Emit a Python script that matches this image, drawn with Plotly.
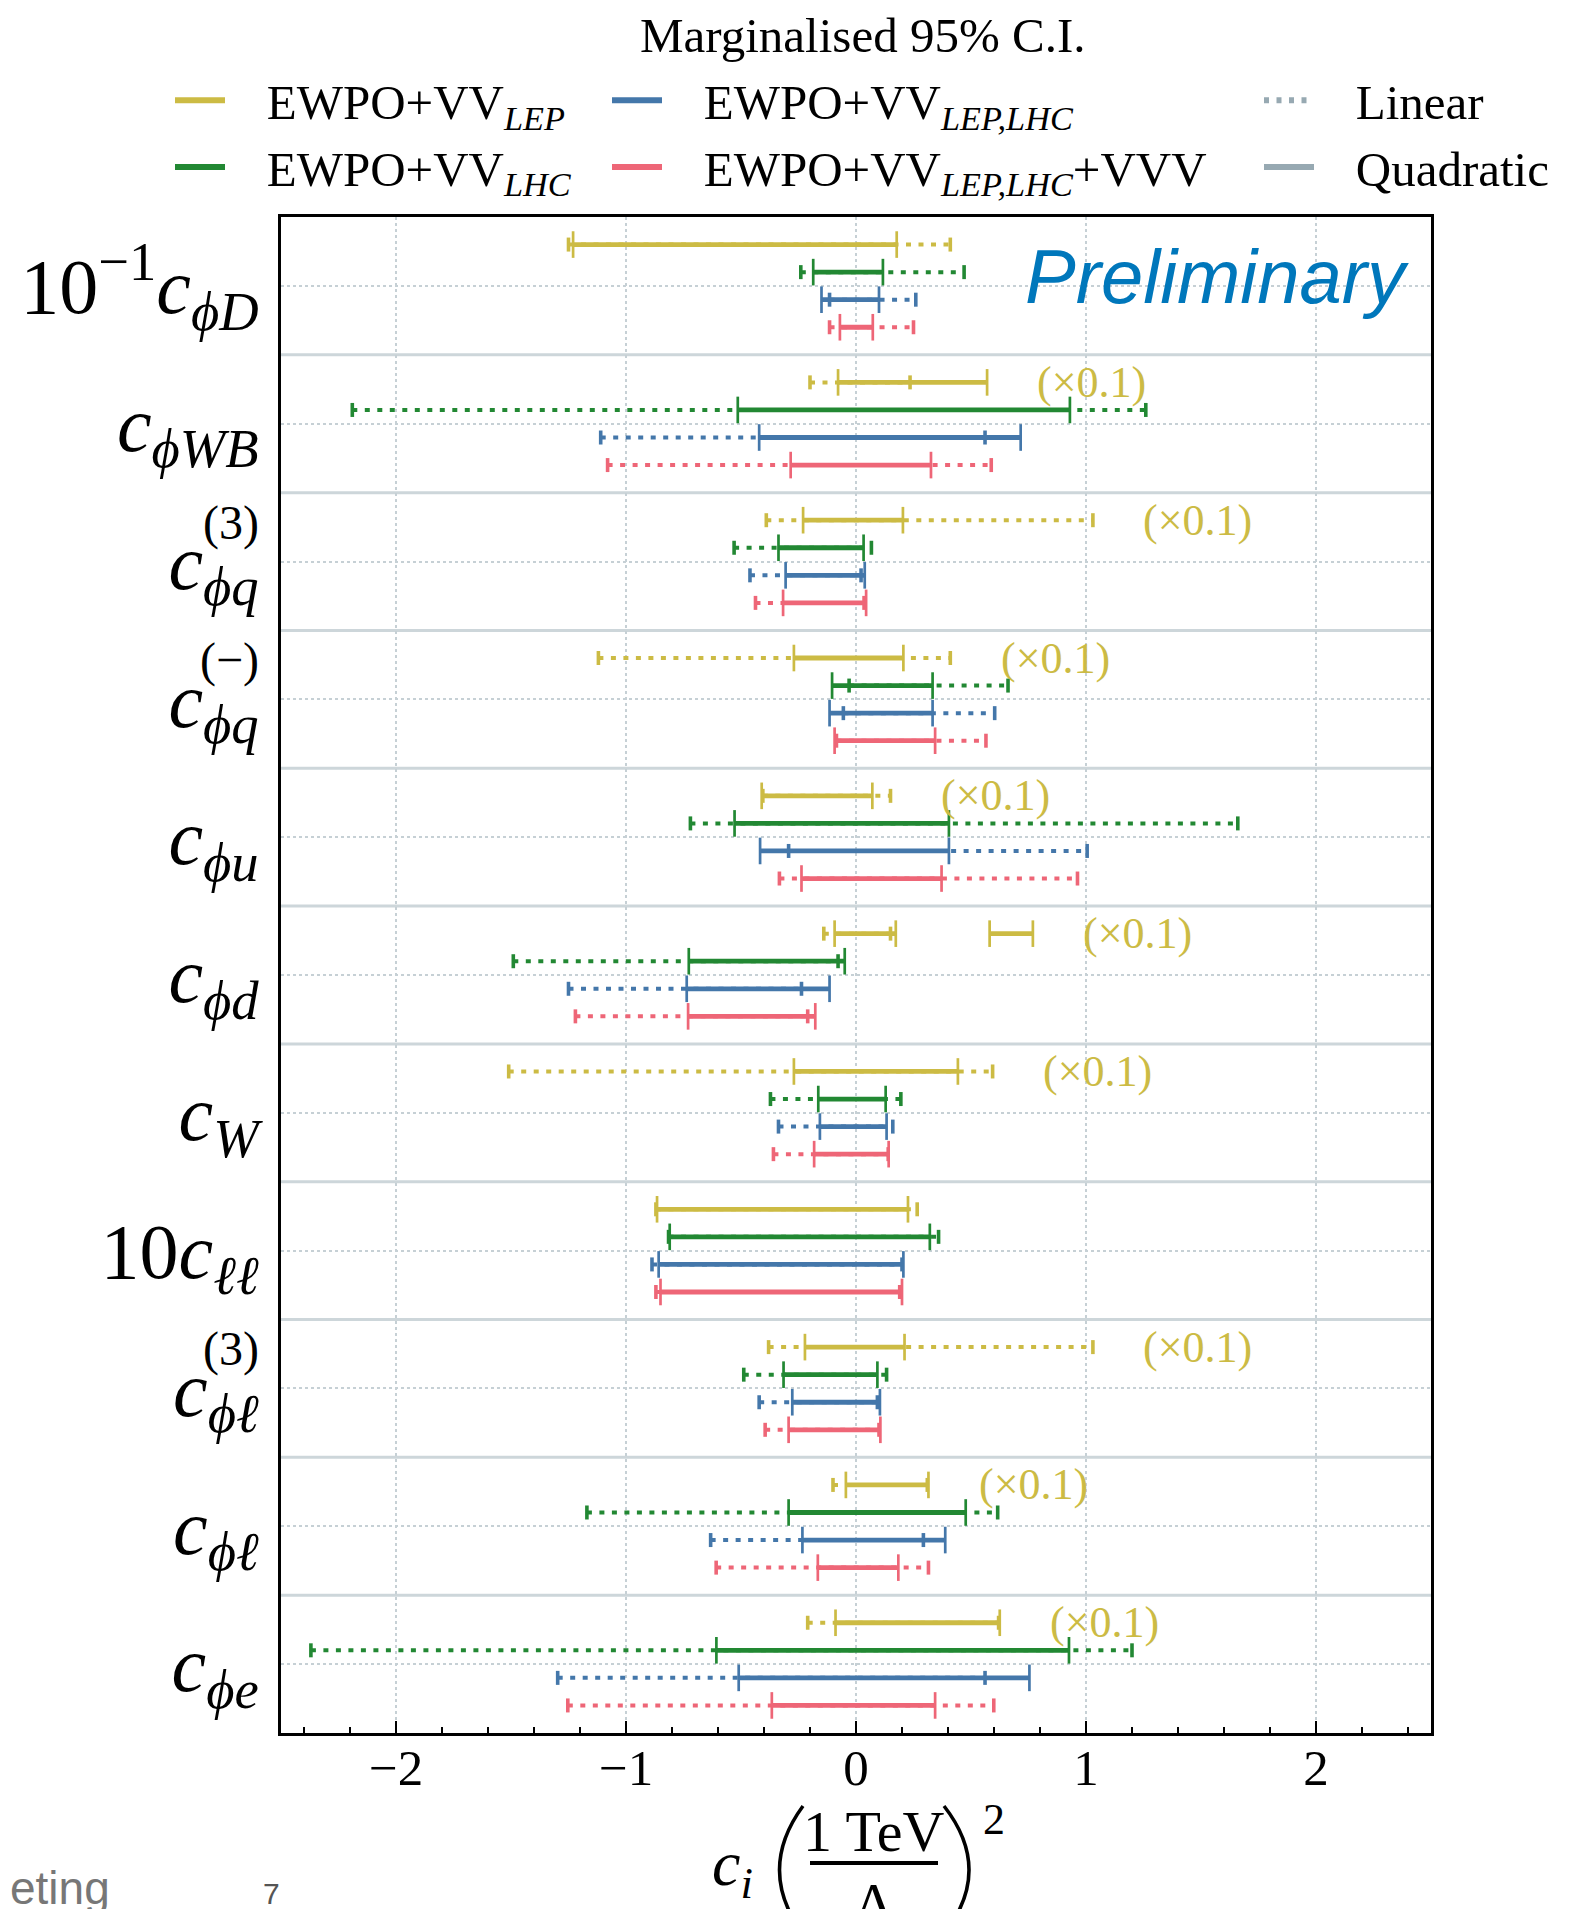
import plotly.graph_objects as go

# ---------------- data (displayed values) ----------------
coefficient_labels = [
    "10<sup>−1</sup><i>c</i><sub><i>ϕD</i></sub>",
    "<i>c</i><sub><i>ϕWB</i></sub>",
    "<i>c</i><sub><i>ϕq</i></sub>",
    "<i>c</i><sub><i>ϕq</i></sub>",
    "<i>c</i><sub><i>ϕu</i></sub>",
    "<i>c</i><sub><i>ϕd</i></sub>",
    "<i>c</i><sub><i>W</i></sub>",
    "10<i>c</i><sub><i>ℓℓ</i></sub>",
    "<i>c</i><sub><i>ϕℓ</i></sub>",
    "<i>c</i><sub><i>ϕℓ</i></sub>",
    "<i>c</i><sub><i>ϕe</i></sub>",
]
coefficient_superscripts = ["", "", "(3)", "(−)", "", "", "", "", "(3)", "", ""]
lep_scaled = [False, True, True, True, True, True, True, False, True, True, True]

# EWPO+VV_LEP
lep_lin_lo = [-1.25, -0.20, -0.39, -1.12, -0.405, -0.14, -1.51, -0.87, -0.38, -0.10, -0.21]
lep_lin_hi = [0.41, 0.235, 1.03, 0.41, 0.15, 0.15, 0.594, 0.266, 1.03, 0.31, 0.62]
lep_quad_lo = [-1.23, -0.078, -0.23, -0.27, -0.41, -0.093, -0.27, -0.865, -0.222, -0.044, -0.089]
lep_quad_hi = [0.177, 0.57, 0.204, 0.206, 0.071, 0.173, 0.443, 0.226, 0.211, 0.315, 0.625]
lep_quad2_lo = [None, None, None, None, None, 0.581, None, None, None, None, None]
lep_quad2_hi = [None, None, None, None, None, 0.769, None, None, None, None, None]

# EWPO+VV_LHC
lhc_lin_lo = [-0.24, -2.19, -0.53, -0.03, -0.72, -1.49, -0.372, -0.815, -0.488, -1.17, -2.37]
lhc_lin_hi = [0.47, 1.26, 0.067, 0.661, 1.66, -0.078, 0.195, 0.359, 0.133, 0.616, 1.20]
lhc_quad_lo = [-0.186, -0.514, -0.337, -0.104, -0.528, -0.727, -0.164, -0.81, -0.315, -0.293, -0.607]
lhc_quad_hi = [0.117, 0.93, 0.033, 0.333, 0.404, -0.049, 0.129, 0.321, 0.093, 0.477, 0.926]

# EWPO+VV_LEP,LHC
comb_lin_lo = [-0.115, -1.11, -0.461, -0.055, -0.293, -1.25, -0.337, -0.887, -0.421, -0.632, -1.297]
comb_lin_hi = [0.26, 0.561, 0.022, 0.603, 1.005, -0.237, 0.16, 0.20, 0.093, 0.293, 0.561]
comb_quad_lo = [-0.15, -0.421, -0.306, -0.115, -0.417, -0.736, -0.157, -0.858, -0.277, -0.233, -0.51]
comb_quad_hi = [0.10, 0.716, 0.038, 0.333, 0.404, -0.115, 0.133, 0.206, 0.104, 0.388, 0.754]

# EWPO+VV_LEP,LHC+VVV
vvv_lin_lo = [-0.115, -1.08, -0.437, -0.085, -0.333, -1.22, -0.359, -0.87, -0.395, -0.608, -1.253]
vvv_lin_hi = [0.25, 0.588, 0.035, 0.565, 0.963, -0.21, 0.14, 0.19, 0.10, 0.315, 0.599]
vvv_quad_lo = [-0.07, -0.284, -0.317, -0.093, -0.237, -0.73, -0.182, -0.85, -0.293, -0.166, -0.366]
vvv_quad_hi = [0.073, 0.326, 0.044, 0.344, 0.372, -0.177, 0.142, 0.20, 0.106, 0.184, 0.344]

x_ticks = [-2, -1, 0, 1, 2]
x_tick_labels = ["−2", "−1", "0", "1", "2"]

# ---------------- styling ----------------
SERIF = "Liberation Serif, DejaVu Serif, serif"
SANS = "Liberation Sans, Arial, sans-serif"
GRID = "#c6d0d5"
SEP = "#cdd6da"
GREY = "#97a9b2"
NB = "\u00a0"
DOT = "5px,7.5px"

datasets = [
    dict(name="EWPO+VV<sub><i>LEP</i></sub>", color="#CCBB44", legend="legend",
         lin=(lep_lin_lo, lep_lin_hi), quad=[(lep_quad_lo, lep_quad_hi), (lep_quad2_lo, lep_quad2_hi)]),
    dict(name="EWPO+VV<sub><i>LHC</i></sub>", color="#228833", legend="legend",
         lin=(lhc_lin_lo, lhc_lin_hi), quad=[(lhc_quad_lo, lhc_quad_hi)]),
    dict(name="EWPO+VV<sub><i>LEP,LHC</i></sub>", color="#4477AA", legend="legend2",
         lin=(comb_lin_lo, comb_lin_hi), quad=[(comb_quad_lo, comb_quad_hi)]),
    dict(name="EWPO+VV<sub><i>LEP,LHC</i></sub>+VVV", color="#EE6677", legend="legend2",
         lin=(vvv_lin_lo, vvv_lin_hi), quad=[(vvv_quad_lo, vvv_quad_hi)]),
]

n = len(coefficient_labels)
positions = list(range(n))

fig = go.Figure()


def segments(lo, hi, yc):
    xs, ys = [], []
    for a, b, y in zip(lo, hi, yc):
        if a is None or b is None:
            continue
        xs += [a, b, None]
        ys += [y, y, None]
    return xs, ys


for k, d in enumerate(datasets):
    yc = [p - 0.3 + 0.2 * k for p in positions]
    xs, ys = segments(d["lin"][0], d["lin"][1], yc)
    fig.add_trace(go.Scatter(
        x=xs, y=ys, mode="lines+markers", showlegend=False, hoverinfo="skip",
        line=dict(color=d["color"], width=4, dash=DOT),
        marker=dict(symbol="line-ns", size=10, color=d["color"],
                    line=dict(width=3.6, color=d["color"])),
    ))
    for lo, hi in d["quad"]:
        xs, ys = segments(lo, hi, yc)
        fig.add_trace(go.Scatter(
            x=xs, y=ys, mode="lines+markers", showlegend=False, hoverinfo="skip",
            line=dict(color=d["color"], width=4.8),
            marker=dict(symbol="line-ns", size=19, color=d["color"],
                        line=dict(width=2.7, color=d["color"])),
        ))

# legend entries
for j, d in enumerate(datasets):
    fig.add_trace(go.Scatter(x=[None], y=[None], mode="lines", name=NB * 3 + d["name"],
                             legend=d["legend"], legendgroup="g%d" % j,
                             line=dict(color=d["color"], width=6)))
fig.add_trace(go.Scatter(x=[None], y=[None], mode="lines", name=NB * 3 + "Linear",
                         legend="legend3", legendgroup="lin",
                         line=dict(color=GREY, width=6, dash=DOT)))
fig.add_trace(go.Scatter(x=[None], y=[None], mode="lines", name=NB * 3 + "Quadratic",
                         legend="legend3", legendgroup="quad",
                         line=dict(color=GREY, width=6)))

# The page body has an 8px margin: the figure is drawn 8px in from the top-left
# corner of the screenshot, so full-picture coordinates are shifted by OFF.
OFF = 8
W, H = 1577 - OFF, 1909 - OFF
L, R, T, B = 281 - OFF, 1431 - OFF, 217 - OFF, 1733 - OFF


def px(x):  # full-picture x -> paper
    return (x - OFF - L) / (R - L)


def py(y):  # full-picture y -> paper
    return (B - (y - OFF)) / (B - T)


annotations = []
# (x0.1) labels next to LEP bars
for i in positions:
    if not lep_scaled[i]:
        continue
    vals = [v for v in (lep_lin_hi[i], lep_quad_hi[i], lep_quad2_hi[i]) if v is not None]
    annotations.append(dict(x=max(vals) + 0.21, y=i - 0.3, xref="x", yref="y",
                            text="(×0.1)", showarrow=False, xanchor="left", yanchor="middle",
                            font=dict(family=SERIF, size=44, color="#CCBB44")))
# stacked superscripts of the y labels
for i in positions:
    if coefficient_superscripts[i]:
        annotations.append(dict(x=px(261), y=i, xref="paper", yref="y",
                                text=coefficient_superscripts[i], showarrow=False,
                                xanchor="right", yanchor="middle", yshift=39,
                                font=dict(family=SERIF, size=48, color="black")))

annotations += [
    dict(x=px(862), y=py(OFF - 2), xref="paper", yref="paper", text="Marginalised 95% C.I.",
         showarrow=False, xanchor="center", yanchor="top",
         font=dict(family=SERIF, size=49, color="black")),
    dict(x=px(1411), y=py(276), xref="paper", yref="paper", text="<i>Preliminary</i>",
         showarrow=False, xanchor="right", yanchor="middle",
         font=dict(family=SANS, size=76, color="#0077BB")),
    # x-axis title, built as a fraction
    dict(x=px(755), y=py(1868), xref="paper", yref="paper", text="<i>c<sub>i</sub></i>",
         showarrow=False, xanchor="right", yanchor="middle",
         font=dict(family=SERIF, size=64, color="black")),
    dict(x=px(874), y=py(1831), xref="paper", yref="paper", text="1 TeV",
         showarrow=False, xanchor="center", yanchor="middle",
         font=dict(family=SERIF, size=58, color="black")),
    dict(x=px(874), y=py(1903), xref="paper", yref="paper", text="Λ",
         showarrow=False, xanchor="center", yanchor="middle",
         font=dict(family=SERIF, size=58, color="black")),
    dict(x=px(994), y=py(1819), xref="paper", yref="paper", text="2",
         showarrow=False, xanchor="center", yanchor="middle",
         font=dict(family=SERIF, size=44, color="black")),
    # slide remnants
    dict(x=px(OFF), y=py(1888), xref="paper", yref="paper", text="eting",
         showarrow=False, xanchor="left", yanchor="middle",
         font=dict(family=SANS, size=46, color="#777777")),
    dict(x=px(271), y=py(1893), xref="paper", yref="paper", text="7",
         showarrow=False, xanchor="center", yanchor="middle",
         font=dict(family=SANS, size=30, color="#555555")),
]

shapes = [dict(type="line", xref="paper", x0=0, x1=1, yref="y", y0=p + 0.5, y1=p + 0.5,
               line=dict(color=SEP, width=3), layer="below") for p in positions[:-1]]
# fraction bar and parentheses of the x-axis title
shapes.append(dict(type="line", xref="paper", yref="paper", x0=px(810), x1=px(938),
                   y0=py(1863), y1=py(1863), line=dict(color="black", width=4)))
shapes.append(dict(type="path", xref="paper", yref="paper",
                   path="M %f,%f Q %f,%f %f,%f" % (px(803), py(1806), px(756), py(1870), px(803), py(1934)),
                   line=dict(color="black", width=3.5)))
shapes.append(dict(type="path", xref="paper", yref="paper",
                   path="M %f,%f Q %f,%f %f,%f" % (px(944), py(1806), px(994), py(1870), px(944), py(1934)),
                   line=dict(color="black", width=3.5)))

legend_common = dict(xanchor="left", yanchor="top", xref="container", yref="container",
                     bgcolor="rgba(0,0,0,0)",
                     font=dict(family=SERIF, size=49, color="black"),
                     itemwidth=50, tracegroupgap=0, orientation="v")

fig.update_layout(
    width=W, height=H,
    margin=dict(l=L, r=W - R, t=T, b=H - B, autoexpand=False),
    paper_bgcolor="white", plot_bgcolor="white",
    xaxis=dict(range=[-2.5, 2.5], tickvals=x_ticks, ticktext=x_tick_labels, automargin=False,
               showgrid=True, gridcolor=GRID, griddash="dot", gridwidth=1.6,
               zeroline=False, showline=True, linecolor="black", linewidth=2.5, mirror=True,
               ticks="inside", ticklen=12, tickwidth=2, tickcolor="black", ticklabelstandoff=-12,
               minor=dict(dtick=0.2, tick0=0, ticks="inside", ticklen=6, tickwidth=1.5,
                          tickcolor="black", showgrid=False),
               tickfont=dict(family=SERIF, size=51, color="black")),
    yaxis=dict(range=[n - 0.5, -0.5], tickvals=positions, ticktext=coefficient_labels,
               automargin=False,
               showgrid=True, gridcolor=GRID, griddash="dot", gridwidth=1.6,
               zeroline=False, showline=True, linecolor="black", linewidth=2.5, mirror=True,
               ticks="", ticklabelstandoff=4,
               tickfont=dict(family=SERIF, size=78, color="black")),
    legend=dict(x=(170 - OFF) / W, y=1 - (62 - OFF) / H, **legend_common),
    legend2=dict(x=(607 - OFF) / W, y=1 - (62 - OFF) / H, **legend_common),
    legend3=dict(x=(1259 - OFF) / W, y=1 - (62 - OFF) / H, **legend_common),
    annotations=annotations,
    shapes=shapes,
)

fig.write_html("out.html")
